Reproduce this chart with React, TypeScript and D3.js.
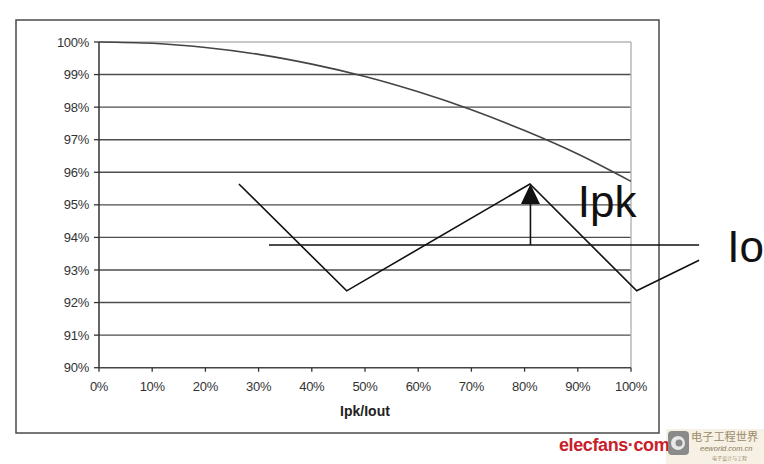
import React from "react";
import * as d3 from "d3";

// Efficiency curve (x: Ipk/Iout, y: efficiency %)
const curveX = [0, 0.1, 0.2, 0.3, 0.4, 0.5, 0.6, 0.7, 0.8, 0.9, 1.0];
const curveY = [100, 99.96, 99.83, 99.62, 99.32, 98.94, 98.47, 97.92, 97.28, 96.56, 95.72];

// Ripple (triangle) annotation, in data coordinates
const rippleX = [0.263, 0.4656, 0.81, 1.0107, 1.128];
const rippleY = [95.64, 92.36, 95.64, 92.36, 93.3];
const ioLineX = [0.3195, 1.128];
const ioLevel = 93.77;
const arrowX = 0.811;
const peakLevel = 95.64;

const xTicks = [0, 0.1, 0.2, 0.3, 0.4, 0.5, 0.6, 0.7, 0.8, 0.9, 1.0];
const yTicks = [90, 91, 92, 93, 94, 95, 96, 97, 98, 99, 100];
const xTitle = "Ipk/Iout";
const ipkLabel = "Ipk";
const ioLabel = "Io";

export default function App() {
  const W = 764, H = 464;
  const x = d3.scaleLinear().domain([0, 1]).range([99, 631]);
  const y = d3.scaleLinear().domain([90, 100]).range([367.7, 42]);
  const font = "'Liberation Sans', Arial, sans-serif";

  const curve = d3
    .line<number>()
    .x((_, i) => x(curveX[i]))
    .y((d) => y(d))
    .curve(d3.curveMonotoneX)(curveY) as string;

  const ripple = d3
    .line<number>()
    .x((_, i) => x(rippleX[i]))
    .y((d) => y(d))(rippleY) as string;

  const ax = x(arrowX);
  const tipY = y(peakLevel);
  const headH = 20, headW = 9.5;

  return (
    <svg
      width={W}
      height={H}
      style={{ position: "absolute", left: 0, top: 0, background: "#fff" }}
      fontFamily={font}
    >
      {/* outer frame */}
      <rect x={16} y={20} width={643} height={413} fill="none" stroke="#4a4a4a" strokeWidth={1.5} />

      {/* gridlines */}
      {yTicks
        .filter((t) => t > 90 && t < 100)
        .map((t) => (
          <line key={t} x1={x(0)} x2={x(1)} y1={y(t)} y2={y(t)} stroke="#4d4d4d" strokeWidth={1.4} />
        ))}
      {/* plot border top / right */}
      <line x1={x(0)} x2={x(1)} y1={y(100)} y2={y(100)} stroke="#b4b4b4" strokeWidth={1.4} />
      <line x1={x(1)} x2={x(1)} y1={y(100)} y2={y(90)} stroke="#b4b4b4" strokeWidth={1.4} />

      {/* axes */}
      <line x1={x(0)} x2={x(0)} y1={y(100)} y2={y(90)} stroke="#333" strokeWidth={1.5} />
      <line x1={x(0)} x2={x(1)} y1={y(90)} y2={y(90)} stroke="#444" strokeWidth={1.5} />
      {yTicks.map((t) => (
        <g key={"y" + t}>
          <line x1={x(0) - 5} x2={x(0)} y1={y(t)} y2={y(t)} stroke="#333" strokeWidth={1.3} />
          <text x={89} y={y(t)} dy="0.35em" textAnchor="end" fontSize={13} fill="#333" letterSpacing={-0.3}>
            {t}%
          </text>
        </g>
      ))}
      {xTicks.map((t) => (
        <g key={"x" + t}>
          <line x1={x(t)} x2={x(t)} y1={y(90)} y2={y(90) + 4} stroke="#333" strokeWidth={1.3} />
          <text x={x(t)} y={391} textAnchor="middle" fontSize={13} fill="#333" letterSpacing={-0.3}>
            {Math.round(t * 100)}%
          </text>
        </g>
      ))}
      <text x={(x(0) + x(1)) / 2} y={416} textAnchor="middle" fontSize={14} fontWeight="bold" fill="#222">
        {xTitle}
      </text>

      {/* efficiency curve */}
      <path d={curve} fill="none" stroke="#444" strokeWidth={1.6} />

      {/* ripple annotation */}
      <line x1={x(ioLineX[0])} x2={x(ioLineX[1])} y1={y(ioLevel)} y2={y(ioLevel)} stroke="#111" strokeWidth={1.5} />
      <path d={ripple} fill="none" stroke="#111" strokeWidth={1.6} strokeLinejoin="miter" />
      <line x1={ax} x2={ax} y1={y(ioLevel)} y2={tipY + headH - 2} stroke="#111" strokeWidth={1.6} />
      <path
        d={`M${ax},${tipY} L${ax + headW},${tipY + headH} L${ax - headW},${tipY + headH} Z`}
        fill="#111"
      />
      <text x={x(0.9)} y={y(94.64)} fontSize={44} fill="#111">
        {ipkLabel}
      </text>
      <text x={x(1.181)} y={y(93.26)} fontSize={44} fill="#111">
        {ioLabel}
      </text>

      {/* watermark */}
      <rect x={666} y={429} width={98} height={35} fill="#f6f1e4" />
      <text x={559} y={451} fontSize={18} fontWeight="bold" fill="#c8202a" letterSpacing={-0.4}>
        elecfans·com
      </text>
      <rect x={668} y={431} width={21} height={24} rx={4} fill="#8a8a8a" />
      <circle cx={678} cy={443} r={7} fill="#e8e8e8" />
      <circle cx={679} cy={443} r={3.5} fill="#8a8a8a" />
      <text x={691} y={441} fontSize={11.2} fill="#9a8a6a" fontFamily="'Noto Sans CJK SC', sans-serif">
        电子工程世界
      </text>
      <text x={700} y={451} fontSize={7.5} fill="#8a7a5a" fontStyle="italic">
        eeworld.com.cn
      </text>
      <text x={712} y={460} fontSize={5} fill="#a09070" fontFamily="'Noto Sans CJK SC', sans-serif">
        电子设计与工程
      </text>
    </svg>
  );
}
